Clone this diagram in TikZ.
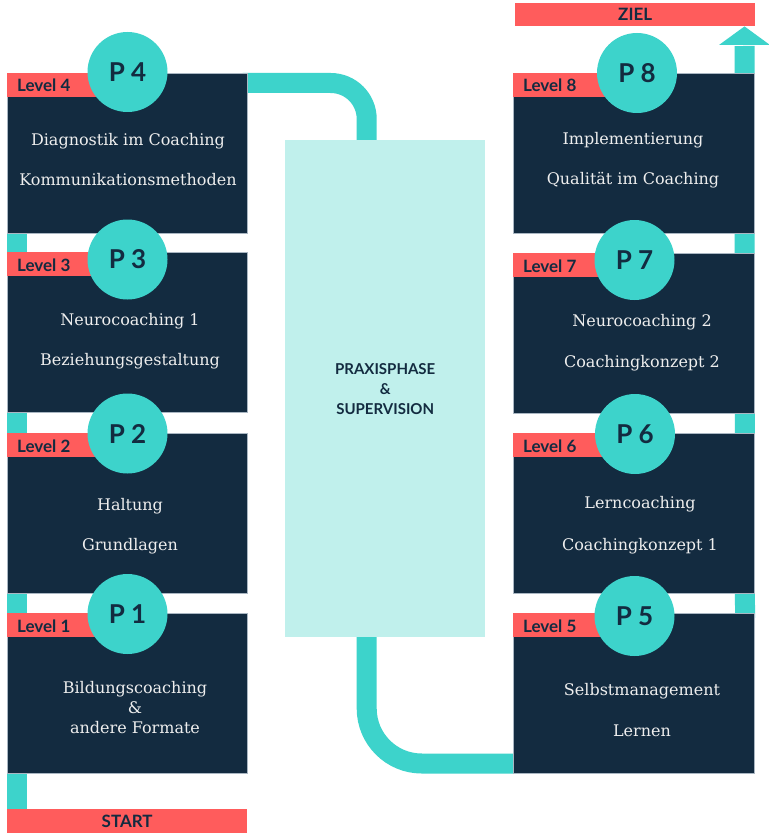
\documentclass[tikz,border=0pt]{standalone}
\usepackage{fontspec}
\setmainfont{DejaVu Serif}
\newfontfamily\lato{Lato}
\definecolor{navy}{HTML}{132B40}
\definecolor{tealc}{HTML}{3DD3CB}
\definecolor{redc}{HTML}{FF5C5C}
\definecolor{lightc}{HTML}{C0F0EC}
\definecolor{offw}{HTML}{EEEEEE}
\definecolor{edgec}{HTML}{A9B6C2}
\pgfdeclarelayer{background}
\pgfsetlayers{background,main}
\begin{document}
\begin{tikzpicture}[x=1pt,y=-1pt,
  box/.style={rectangle, fill=navy, draw=edgec, line width=0.5pt, minimum width=240pt, minimum height=160pt, inner sep=0pt, anchor=north west},
  rbox/.style={box, minimum width=241pt},
  band/.style={rectangle, fill=redc, minimum height=24pt, inner sep=0pt, anchor=north west},
  lvl/.style={font=\lato\bfseries\fontsize{17}{17}\selectfont, text=navy, anchor=base west, inner sep=0pt},
  pcirc/.style={circle, fill=tealc, minimum size=80pt, inner sep=0pt, font=\lato\bfseries\fontsize{26}{26}\selectfont, text=navy},
  btxt/.style={font=\fontsize{16}{16}\selectfont, text=offw, anchor=base, inner sep=0pt},
  conn/.style={draw=tealc, line width=20pt},
  bar/.style={rectangle, fill=redc, minimum width=240pt, minimum height=23pt, inner sep=0pt, anchor=north west, font=\lato\bfseries\fontsize{17}{17}\selectfont, text=navy},
]
\useasboundingbox (0,0) rectangle (768,840);

% bars
\node[bar] (ziel) at (515,3) {ZIEL};
\node[bar, minimum height=24pt] (start) at (7,809) {START};

% praxis
\node[rectangle, fill=lightc, minimum width=200pt, minimum height=497pt, inner sep=0pt, anchor=north west,
      align=center, text=navy, font=\lato\bfseries\fontsize{15}{20}\selectfont] (praxis) at (285,140)
      {PRAXISPHASE\\\&\\SUPERVISION};

% left column
\node[box] (b4) at (7,73) {};
\node[box] (b3) at (7,252) {};
\node[box] (b2) at (7,433) {};
\node[box] (b1) at (7,613) {};
% right column
\node[rbox] (b8) at (513,73) {};
\node[rbox] (b7) at (513,253) {};
\node[rbox] (b6) at (513,433) {};
\node[rbox] (b5) at (513,613) {};

% level bands
\node[band, minimum width=120.5pt] (band4) at (7,73) {};
\node[band, minimum width=120.5pt] (band3) at (7,252) {};
\node[band, minimum width=120.5pt] (band2) at (7,433) {};
\node[band, minimum width=120.5pt] (band1) at (7,613) {};
\node[band, minimum width=122pt] (band8) at (513,73) {};
\node[band, minimum width=122pt] (band7) at (513,253) {};
\node[band, minimum width=122pt] (band6) at (513,433) {};
\node[band, minimum width=122pt] (band5) at (513,613) {};

\node[lvl] (lv4) at (17,92) {Level 4};
\node[lvl] (lv3) at (17,271) {Level 3};
\node[lvl] (lv2) at (17,452) {Level 2};
\node[lvl] (lv1) at (17,632) {Level 1};
\node[lvl] (lv8) at (523,92) {Level 8};
\node[lvl] (lv7) at (523,272) {Level 7};
\node[lvl] (lv6) at (523,452) {Level 6};
\node[lvl] (lv5) at (523,632) {Level 5};

% circles
\node[pcirc] (p4) at (127.5,72) {P 4};
\node[pcirc] (p3) at (127.5,259.5) {P 3};
\node[pcirc] (p2) at (127.5,433.5) {P 2};
\node[pcirc] (p1) at (127.5,614) {P 1};
\node[pcirc] (p8) at (637,73) {P 8};
\node[pcirc] (p7) at (634.5,260) {P 7};
\node[pcirc] (p6) at (635,434) {P 6};
\node[pcirc] (p5) at (634.5,616) {P 5};

% texts
\node[btxt] (t4a) at (128,145) {Diagnostik im Coaching};
\node[btxt] (t4b) at (128,185) {Kommunikationsmethoden};
\node[btxt] (t3a) at (130,325) {Neurocoaching 1};
\node[btxt] (t3b) at (130,365) {Beziehungsgestaltung};
\node[btxt] (t2a) at (130,510) {Haltung};
\node[btxt] (t2b) at (130,550) {Grundlagen};
\node[btxt] (t1a) at (135,693) {Bildungscoaching};
\node[btxt] (t1b) at (135,713) {\&};
\node[btxt] (t1c) at (135,733) {andere Formate};
\node[btxt] (t8a) at (633,144) {Implementierung};
\node[btxt] (t8b) at (633,184) {Qualität im Coaching};
\node[btxt] (t7a) at (642,326) {Neurocoaching 2};
\node[btxt] (t7b) at (642,367) {Coachingkonzept 2};
\node[btxt] (t6a) at (640,508) {Lerncoaching};
\node[btxt] (t6b) at (640,550) {Coachingkonzept 1};
\node[btxt] (t5a) at (642,695) {Selbstmanagement};
\node[btxt] (t5b) at (642,736) {Lernen};

\coordinate (ahead) at (744.5,45);

\begin{pgfonlayer}{background}
  \fill[white] (0,0) rectangle (768,840);
  % left vertical path
  \draw[conn] ([xshift=9.5pt]start.north west) -- ([xshift=9.5pt,yshift=5pt]b4.south west);
  % top connector
  \draw[conn, rounded corners=36pt] ([xshift=-5pt,yshift=-10pt]b4.north east) -| ([xshift=-18.5pt,yshift=-5pt]praxis.north);
  % bottom connector
  \draw[conn, rounded corners=55pt] ([xshift=-18.5pt,yshift=5pt]praxis.south) |- ([xshift=5pt,yshift=10pt]b5.south west);
  % right vertical path with arrow
  \draw[conn] ([xshift=-9.5pt,yshift=-5pt]b5.north east) -- ([yshift=-1pt]ahead);
  \fill[tealc] ([xshift=-25.5pt]ahead) -- ([xshift=25.5pt]ahead) -- (ahead |- ziel.south) -- cycle;
\end{pgfonlayer}
\end{tikzpicture}
\end{document}
